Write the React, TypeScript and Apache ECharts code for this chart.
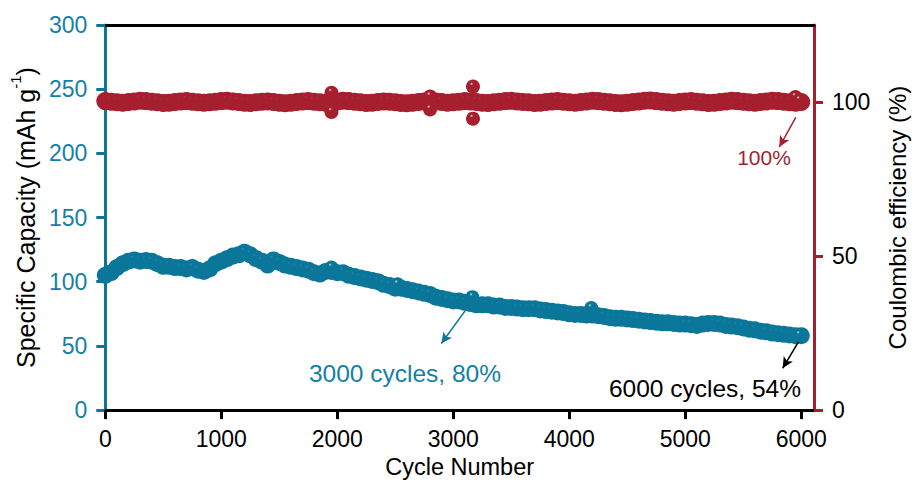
import React, { useEffect, useRef } from "react";
import * as echarts from "echarts";

// ---- Data ----
const CYCLE_STEP = 50;
const capacityValues = [
  105, 107, 111, 114, 116, 117, 116, 116.5, 116, 114,
  112, 112, 111, 111, 110, 111, 109, 108, 110, 114,
  116, 118, 120, 121, 123, 121, 118, 116, 113, 117,
  115, 113, 112, 111, 110, 109, 107, 106, 108, 108,
  107, 107, 105, 104, 103, 102, 101, 100, 98, 97,
  95, 95, 94, 93, 92, 91, 90, 88, 87, 86,
  85, 85, 84, 83, 82, 82, 82, 81, 81, 80,
  80, 79.5, 79, 79, 79, 78, 77.5, 77, 76.5, 76,
  75, 74.5, 74.5, 74, 74, 73.5, 73, 72, 71.5, 71.5,
  71, 70.5, 70, 69.5, 69, 68.5, 68, 68, 67.5, 67,
  67, 66.5, 66, 67, 67.5, 67.5, 67, 66, 65.5, 65,
  64, 63, 62.5, 61.5, 61, 60, 59.5, 59, 58.5, 58,
  58,
];
const capacityExtraCycles = [1950, 2520, 3165, 4190, 5985];
const capacityExtraValues = [111, 98, 88, 79.5, 58.5];

const ceValues = [
  100.3, 100.1, 99.9, 99.8, 100.0, 100.2, 100.4, 100.3, 100.1, 99.9,
  99.7, 99.8, 100.0, 100.2, 100.3, 100.1, 99.9, 99.8, 99.9, 100.1,
  100.3, 100.4, 100.2, 100.0, 99.8, 99.7, 99.9, 100.1, 100.2, 100.0,
  99.8, 99.6, 99.8, 100.0, 100.2, 100.3, 100.1, 99.9, 99.8, 100.0,
  100.2, 100.4, 100.3, 100.1, 99.9, 99.7, 99.8, 100.0, 100.2, 100.1,
  99.9, 99.7, 99.6, 99.8, 100.0, 100.2, 100.4, 100.2, 100.0, 99.8,
  99.9, 100.1, 100.3, 100.2, 100.0, 99.8, 99.7, 99.9, 100.1, 100.3,
  100.4, 100.2, 100.0, 99.9, 99.7, 99.8, 100.0, 100.2, 100.3, 100.1,
  99.9, 99.8, 100.0, 100.2, 100.4, 100.3, 100.1, 99.9, 99.7, 99.6,
  99.8, 100.0, 100.2, 100.4, 100.5, 100.3, 100.1, 99.9, 99.8, 100.0,
  100.2, 100.3, 100.1, 99.9, 99.7, 99.8, 100.0, 100.2, 100.4, 100.3,
  100.1, 99.9, 99.8, 100.0, 100.2, 100.4, 100.3, 100.1, 99.9, 99.8,
  100.0,
];
const ceExtraCycles = [1950, 1950, 2800, 2800, 3170, 3170, 5950, 5985];
const ceExtraValues = [103.0, 96.8, 101.8, 97.6, 105.0, 94.6, 101.6, 100.6];

const xTicks = [0, 1000, 2000, 3000, 4000, 5000, 6000];
const rightTicks = [0, 50, 100];

const TEAL = "#0a769a";
const TEAL_TEXT = "#1580a5";
const RED = "#a51f2e";
const FONT = "'Liberation Sans', Arial, sans-serif";

function sphere(base: string, light: string, stop: number) {
  return {
    type: "radial",
    x: 0.4,
    y: 0.3,
    r: 0.6,
    colorStops: [
      { offset: 0, color: light },
      { offset: stop, color: base },
      { offset: 1, color: base },
    ],
  };
}

export default function App() {
  const ref = useRef<HTMLDivElement>(null);
  useEffect(() => {
    if (!ref.current) return;
    const chart = echarts.init(ref.current, null, { renderer: "svg" });

    const capData = capacityValues.map((v, i) => [i * CYCLE_STEP, v]);
    const capExtra = capacityExtraCycles.map((c, i) => [c, capacityExtraValues[i]]);
    const ceData = ceValues.map((v, i) => [i * CYCLE_STEP, v]);
    const ceExtra = ceExtraCycles.map((c, i) => [c, ceExtraValues[i]]);

    chart.setOption({
      animation: false,
      textStyle: { fontFamily: FONT },
      grid: { left: 105, right: 97, top: 25, bottom: 70, containLabel: false },
      xAxis: [
        {
          type: "value",
          min: 0,
          max: 6110,
          interval: 1000,
          name: "Cycle Number",
          nameLocation: "middle",
          nameGap: 41,
          nameTextStyle: { color: "#000", fontSize: 23.5, fontFamily: FONT },
          axisLine: { show: true, onZero: false, lineStyle: { color: "#000", width: 3 } },
          axisTick: { show: true, inside: false, length: 9, lineStyle: { color: "#000", width: 3 }, customValues: xTicks },
          axisLabel: {
            color: "#000",
            fontSize: 23,
            margin: 17,
            fontFamily: FONT,
            customValues: xTicks,
            formatter: (v: number) => String(v),
          },
          splitLine: { show: false },
        },
        {
          type: "value",
          position: "top",
          min: 0,
          max: 6110,
          axisLine: { show: true, onZero: false, lineStyle: { color: "#000", width: 3 } },
          axisTick: { show: false },
          axisLabel: { show: false },
          splitLine: { show: false },
        },
      ],
      yAxis: [
        {
          type: "value",
          position: "left",
          min: 0,
          max: 300,
          interval: 50,
          name: "{a|Specific Capacity (mAh g}{s|-1}{a|)}",
          nameLocation: "middle",
          nameGap: 64,
          nameRotate: 90,
          nameTextStyle: {
            color: "#000",
            fontSize: 25,
            fontFamily: FONT,
            rich: {
              a: { fontSize: 25, color: "#000", fontFamily: FONT, verticalAlign: "bottom", lineHeight: 30 },
              s: { fontSize: 15, color: "#000", fontFamily: FONT, verticalAlign: "top", lineHeight: 30 },
            },
          },
          axisLine: { show: true, onZero: false, lineStyle: { color: TEAL, width: 3 } },
          axisTick: { show: true, inside: false, length: 9, lineStyle: { color: TEAL, width: 3 } },
          axisLabel: { color: TEAL_TEXT, fontSize: 23, margin: 18, fontFamily: FONT },
          splitLine: { show: false },
        },
        {
          type: "value",
          position: "right",
          min: 0,
          max: 125,
          name: "Coulombic efficiency (%)",
          nameLocation: "middle",
          nameGap: 71,
          nameRotate: 90,
          nameTextStyle: { color: "#000", fontSize: 24, fontFamily: FONT },
          axisLine: { show: true, onZero: false, lineStyle: { color: RED, width: 3 } },
          axisTick: { show: true, inside: false, length: 9, lineStyle: { color: RED, width: 3 }, customValues: rightTicks },
          axisLabel: { color: "#000", fontSize: 23, margin: 18, fontFamily: FONT, customValues: rightTicks },
          splitLine: { show: false },
        },
      ],
      series: [
        {
          name: "Coulombic efficiency",
          type: "scatter",
          xAxisIndex: 0,
          yAxisIndex: 1,
          data: ceData,
          symbol: "circle",
          symbolSize: 18,
          silent: true,
          itemStyle: { color: sphere(RED, "#b8424f", 0.15), opacity: 1 },
          markLine: {
            silent: true,
            symbol: ["none", "arrow"],
            symbolSize: [8, 11],
            label: { show: false },
            lineStyle: { color: RED, width: 1.5, type: "solid" },
            data: [[{ coord: [5953, 95.0] }, { coord: [5811, 85.4] }]],
          },
        },
        {
          name: "Coulombic efficiency (outliers)",
          type: "scatter",
          xAxisIndex: 0,
          yAxisIndex: 1,
          data: ceExtra,
          symbol: "circle",
          symbolSize: 14,
          silent: true,
          itemStyle: { color: sphere(RED, "#f3d3d6", 0.2), opacity: 1 },
        },
        {
          name: "Specific Capacity",
          type: "scatter",
          xAxisIndex: 0,
          yAxisIndex: 0,
          data: capData,
          symbol: "circle",
          symbolSize: 17,
          silent: true,
          itemStyle: { color: sphere(TEAL, "#2a88a8", 0.15), opacity: 1 },
          markLine: {
            silent: true,
            symbol: ["none", "arrow"],
            symbolSize: [8, 11],
            label: { show: false },
            lineStyle: { width: 1.5, type: "solid" },
            data: [
              [{ coord: [3105, 77.7], lineStyle: { color: TEAL } }, { coord: [2897, 51.9] }],
              [{ coord: [5976, 53.2], lineStyle: { color: "#000" } }, { coord: [5840, 32.6] }],
            ],
          },
        },
        {
          name: "Specific Capacity (outliers)",
          type: "scatter",
          xAxisIndex: 0,
          yAxisIndex: 0,
          data: capExtra,
          symbol: "circle",
          symbolSize: 14,
          silent: true,
          itemStyle: { color: sphere(TEAL, "#c6e2ec", 0.2), opacity: 1 },
        },
      ],
      graphic: [
        {
          type: "text",
          x: 764,
          y: 157,
          style: { text: "100%", fill: RED, font: `21px ${FONT}`, textAlign: "center", textVerticalAlign: "middle" },
        },
        {
          type: "text",
          x: 405,
          y: 373,
          style: { text: "3000 cycles, 80%", fill: TEAL_TEXT, font: `24.5px ${FONT}`, textAlign: "center", textVerticalAlign: "middle" },
        },
        {
          type: "text",
          x: 705,
          y: 388,
          style: { text: "6000 cycles, 54%", fill: "#000", font: `24.5px ${FONT}`, textAlign: "center", textVerticalAlign: "middle" },
        },
      ],
    });
    return () => chart.dispose();
  }, []);
  return (
    <div
      ref={ref}
      style={{ position: "fixed", left: 0, top: 0, width: 917, height: 484, background: "#fff" }}
    />
  );
}
